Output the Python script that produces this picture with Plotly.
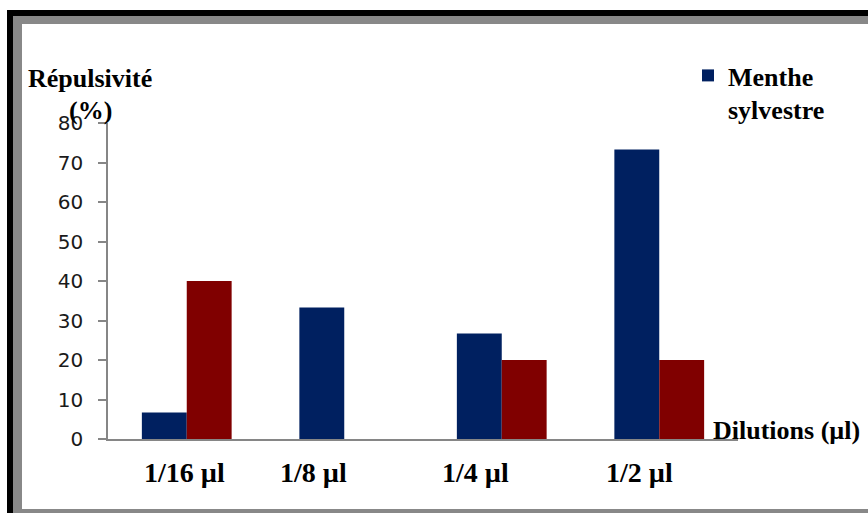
import plotly.graph_objects as go

# ---- data ----
categories = ["1/16 µl", "1/8 µl", "1/4 µl", "1/2 µl"]
menthe_values = [6.7, 33.3, 26.7, 73.3]
serie2_values = [40.0, 0.0, 20.0, 20.0]
y_ticks = [0, 10, 20, 30, 40, 50, 60, 70, 80]

# ---- style ----
W, H = 868, 513
ML, MR, MT, MB = 108, 130, 123, 74
PW, PH = W - ML - MR, H - MT - MB
BLUE = "#002060"
RED = "#800000"
AXIS = "#868686"
SERIF = "Liberation Serif"
label_offsets = [-0.016, -0.197, -0.166, -0.127]


def px_x(px):
    return (px - ML) / PW


def px_y(py):
    return (H - MB - py) / PH


fig = go.Figure()
fig.add_trace(go.Bar(x=categories, y=menthe_values, name="<b>Menthe<br>sylvestre</b>",
                     marker=dict(color=BLUE, line=dict(width=0))))
fig.add_trace(go.Bar(x=categories, y=serie2_values, name="Série 2",
                     marker=dict(color=RED, line=dict(width=0)), showlegend=False))

shapes = [
    dict(type="rect", xref="paper", yref="paper", layer="below",
         x0=px_x(7), x1=px_x(950), y0=px_y(600), y1=px_y(10),
         fillcolor="black", line=dict(width=0)),
    dict(type="rect", xref="paper", yref="paper", layer="below",
         x0=px_x(13), x1=px_x(950), y0=px_y(600), y1=px_y(16),
         fillcolor="#888888", line=dict(width=0)),
    dict(type="rect", xref="paper", yref="paper", layer="below",
         x0=px_x(22), x1=px_x(950), y0=px_y(509), y1=px_y(24),
         fillcolor="white", line=dict(width=0)),
]

annotations = []
for i, lab in enumerate(categories):
    annotations.append(dict(x=i + label_offsets[i], xref="x", y=px_y(472), yref="paper",
                            text="<b>" + lab + "</b>", showarrow=False,
                            xanchor="center", yanchor="middle",
                            font=dict(family=SERIF, size=28, color="black")))
annotations += [
    dict(x=px_x(90), y=px_y(79), xref="paper", yref="paper", text="<b>Répulsivité</b>",
         showarrow=False, xanchor="center", yanchor="middle",
         font=dict(family=SERIF, size=26, color="black")),
    dict(x=px_x(90), y=px_y(110), xref="paper", yref="paper", text="<b>(%)</b>",
         showarrow=False, xanchor="center", yanchor="middle",
         font=dict(family=SERIF, size=26, color="black")),
    dict(x=px_x(711), y=px_y(430), xref="paper", yref="paper", text="<b>Dilutions (µl)</b>",
         showarrow=False, xanchor="left", yanchor="middle",
         font=dict(family=SERIF, size=26, color="black")),
]

fig.update_layout(
    width=W, height=H, autosize=False,
    margin=dict(l=ML, r=MR, t=MT, b=MB, pad=0),
    paper_bgcolor="white", plot_bgcolor="rgba(0,0,0,0)",
    barmode="group", bargap=0.43, bargroupgap=0,
    showlegend=True,
    legend=dict(x=px_x(688), y=px_y(52), xanchor="left", yanchor="top",
                bgcolor="rgba(0,0,0,0)", valign="top",
                font=dict(family=SERIF, size=26, color="black")),
    shapes=shapes, annotations=annotations,
    xaxis=dict(range=[-0.5, 3.5], showline=True, linecolor=AXIS, linewidth=2,
               showticklabels=False, ticks="", showgrid=False, zeroline=False,
               fixedrange=True),
    yaxis=dict(range=[0, 80], tickvals=y_ticks, showline=True, linecolor=AXIS,
               linewidth=1.5, ticks="outside", ticklen=8, tickcolor=AXIS, tickwidth=1.5,
               showgrid=False, zeroline=False, ticklabelstandoff=11,
               tickfont=dict(family="DejaVu Sans", size=20, color="#1a1a1a")),
)
fig.write_html("out.html")
